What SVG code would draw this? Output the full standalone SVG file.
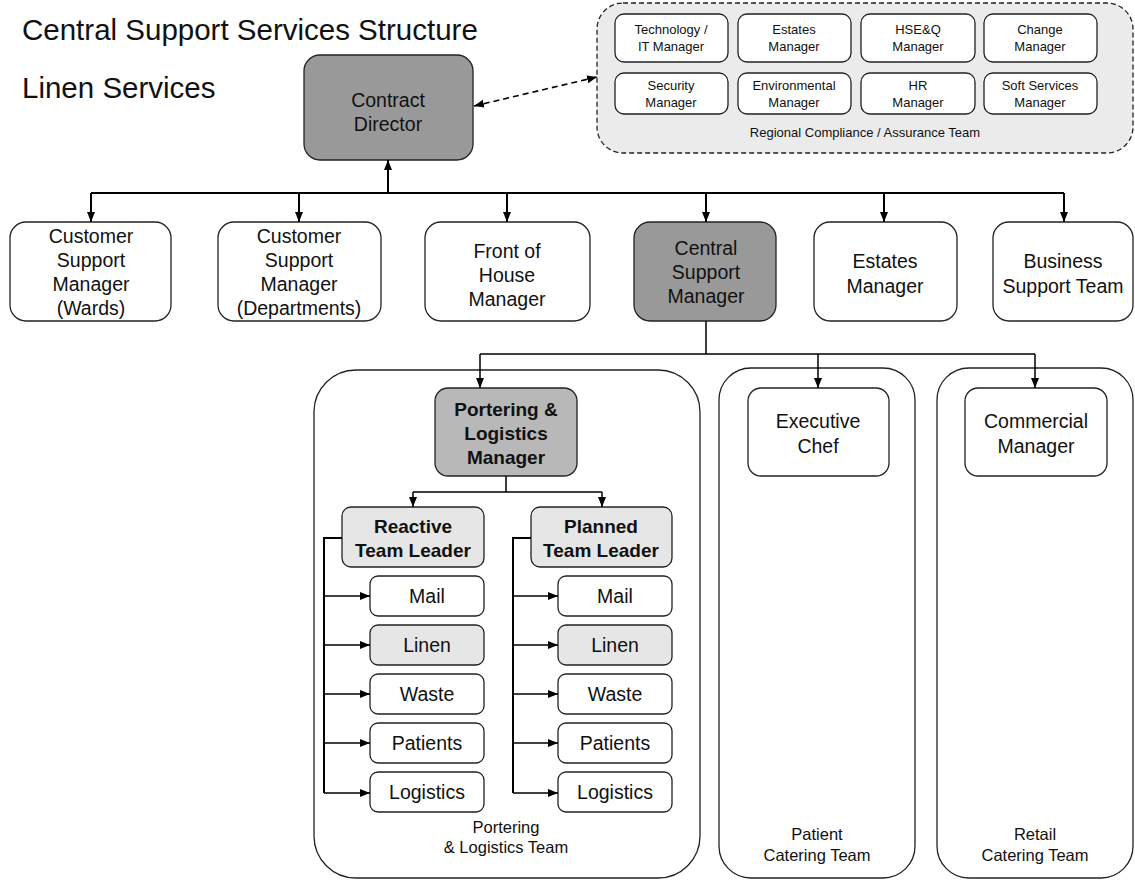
<svg xmlns="http://www.w3.org/2000/svg" width="1135" height="881" viewBox="0 0 1135 881">
<style>
text{font-family:"Liberation Sans",Arial,sans-serif;fill:#111;text-anchor:middle}
.box{fill:#fff;stroke:#222;stroke-width:1.3}
.dark{fill:#999;stroke:#222;stroke-width:1.3}
.mid{fill:#b8b8b8;stroke:#222;stroke-width:1.3}
.light{fill:#e6e6e6;stroke:#222;stroke-width:1.3}
.cont{fill:#fff;stroke:#222;stroke-width:1.3}
.t19{font-size:19.5px}
.b19{font-size:19px;font-weight:bold}
.t13{font-size:13px}
.t16{font-size:16.5px}
.con{fill:none;stroke:#000;stroke-width:2}
.con1{fill:none;stroke:#000;stroke-width:1.5}
</style>
<defs>
<marker id="a" viewBox="0 0 10 10" refX="10" refY="5" markerWidth="10" markerHeight="10" orient="auto-start-reverse" markerUnits="userSpaceOnUse"><path d="M0,1 L10,5 L0,9 z" fill="#000"/></marker>
</defs>
<rect width="1135" height="881" fill="#fff"/>
<text x="22" y="40" style="font-size:29.5px;text-anchor:start">Central Support Services Structure</text>
<text x="22" y="98" style="font-size:29.5px;text-anchor:start">Linen Services</text>

<g id="compliance">
<rect x="597" y="3" width="536" height="150" rx="26" fill="#ebebeb" stroke="#222" stroke-width="1.3" stroke-dasharray="5,3"/>
<rect class="box" x="615" y="14" width="113" height="48" rx="9"/>
<text class="t13" x="671" y="34">Technology /</text><text class="t13" x="671" y="51">IT Manager</text>
<rect class="box" x="738" y="14" width="113" height="48" rx="9"/>
<text class="t13" x="794" y="34">Estates</text><text class="t13" x="794" y="51">Manager</text>
<rect class="box" x="861" y="14" width="114" height="48" rx="9"/>
<text class="t13" x="918" y="34">HSE&amp;Q</text><text class="t13" x="918" y="51">Manager</text>
<rect class="box" x="984" y="14" width="113" height="48" rx="9"/>
<text class="t13" x="1040" y="34">Change</text><text class="t13" x="1040" y="51">Manager</text>
<rect class="box" x="615" y="73" width="113" height="41" rx="9"/>
<text class="t13" x="671" y="90">Security</text><text class="t13" x="671" y="107">Manager</text>
<rect class="box" x="738" y="73" width="113" height="41" rx="9"/>
<text class="t13" x="794" y="90">Environmental</text><text class="t13" x="794" y="107">Manager</text>
<rect class="box" x="861" y="73" width="114" height="41" rx="9"/>
<text class="t13" x="918" y="90">HR</text><text class="t13" x="918" y="107">Manager</text>
<rect class="box" x="984" y="73" width="113" height="41" rx="9"/>
<text class="t13" x="1040" y="90">Soft Services</text><text class="t13" x="1040" y="107">Manager</text>
<text class="t13" x="865" y="137">Regional Compliance / Assurance Team</text>
</g>

<g id="contract-director">
<rect class="dark" x="304" y="55" width="169" height="105" rx="16"/>
<text class="t19" x="388" y="107">Contract</text><text class="t19" x="388" y="131">Director</text>
</g>

<g id="csm-wards"><rect class="box" x="10" y="222" width="161" height="99" rx="16"/>
<text class="t19" x="91" y="243">Customer</text><text class="t19" x="91" y="267">Support</text><text class="t19" x="91" y="291">Manager</text><text class="t19" x="91" y="315">(Wards)</text></g>
<g id="csm-depts"><rect class="box" x="218" y="222" width="163" height="99" rx="16"/>
<text class="t19" x="299" y="243">Customer</text><text class="t19" x="299" y="267">Support</text><text class="t19" x="299" y="291">Manager</text><text class="t19" x="299" y="315">(Departments)</text></g>
<g id="foh"><rect class="box" x="425" y="222" width="165" height="99" rx="16"/>
<text class="t19" x="507" y="258">Front of</text><text class="t19" x="507" y="282">House</text><text class="t19" x="507" y="306">Manager</text></g>
<g id="csm-central"><rect class="dark" x="634" y="222" width="142" height="99" rx="16"/>
<text class="t19" x="706" y="255">Central</text><text class="t19" x="706" y="279">Support</text><text class="t19" x="706" y="303">Manager</text></g>
<g id="estates"><rect class="box" x="814" y="222" width="143" height="99" rx="16"/>
<text class="t19" x="885" y="268">Estates</text><text class="t19" x="885" y="293">Manager</text></g>
<g id="business"><rect class="box" x="993" y="222" width="140" height="99" rx="16"/>
<text class="t19" x="1063" y="268">Business</text><text class="t19" x="1063" y="293">Support Team</text></g>

<g id="portering-team">
<rect class="cont" x="314" y="370" width="386" height="508" rx="42"/>
<text class="t16" x="506" y="833">Portering</text><text class="t16" x="506" y="853">&amp; Logistics Team</text>
</g>
<g id="patient-catering">
<rect class="cont" x="719" y="368" width="196" height="510" rx="32"/>
<text class="t16" x="817" y="840">Patient</text><text class="t16" x="817" y="861">Catering Team</text>
</g>
<g id="retail-catering">
<rect class="cont" x="937" y="368" width="196" height="510" rx="32"/>
<text class="t16" x="1035" y="840">Retail</text><text class="t16" x="1035" y="861">Catering Team</text>
</g>

<g id="portering-manager"><rect class="mid" x="435" y="388" width="142" height="88" rx="13"/>
<text class="b19" x="506" y="416">Portering &amp;</text><text class="b19" x="506" y="440">Logistics</text><text class="b19" x="506" y="464">Manager</text></g>
<g id="exec-chef"><rect class="box" x="748" y="388" width="141" height="88" rx="13"/>
<text class="t19" x="818" y="428">Executive</text><text class="t19" x="818" y="453">Chef</text></g>
<g id="commercial"><rect class="box" x="965" y="388" width="142" height="88" rx="13"/>
<text class="t19" x="1036" y="428">Commercial</text><text class="t19" x="1036" y="453">Manager</text></g>

<g id="reactive"><rect class="light" x="342" y="507" width="142" height="60" rx="9"/>
<text class="b19" x="413" y="533">Reactive</text><text class="b19" x="413" y="557">Team Leader</text></g>
<g id="planned"><rect class="light" x="531" y="507" width="141" height="60" rx="9"/>
<text class="b19" x="601" y="533">Planned</text><text class="b19" x="601" y="557">Team Leader</text></g>

<g id="r-mail"><rect class="box" x="370" y="576" width="114" height="40" rx="8"/><text class="t19" x="427" y="603">Mail</text></g>
<g id="r-linen"><rect class="light" x="370" y="625" width="114" height="40" rx="8"/><text class="t19" x="427" y="652">Linen</text></g>
<g id="r-waste"><rect class="box" x="370" y="674" width="114" height="40" rx="8"/><text class="t19" x="427" y="701">Waste</text></g>
<g id="r-patients"><rect class="box" x="370" y="723" width="114" height="40" rx="8"/><text class="t19" x="427" y="750">Patients</text></g>
<g id="r-logistics"><rect class="box" x="370" y="772" width="114" height="40" rx="8"/><text class="t19" x="427" y="799">Logistics</text></g>
<g id="p-mail"><rect class="box" x="558" y="576" width="114" height="40" rx="8"/><text class="t19" x="615" y="603">Mail</text></g>
<g id="p-linen"><rect class="light" x="558" y="625" width="114" height="40" rx="8"/><text class="t19" x="615" y="652">Linen</text></g>
<g id="p-waste"><rect class="box" x="558" y="674" width="114" height="40" rx="8"/><text class="t19" x="615" y="701">Waste</text></g>
<g id="p-patients"><rect class="box" x="558" y="723" width="114" height="40" rx="8"/><text class="t19" x="615" y="750">Patients</text></g>
<g id="p-logistics"><rect class="box" x="558" y="772" width="114" height="40" rx="8"/><text class="t19" x="615" y="799">Logistics</text></g>

<g id="connectors">
<path class="con" d="M388,193 V160" marker-end="url(#a)"/>
<path class="con" d="M91,193 H1064"/>
<path class="con" d="M91,193 V222" marker-end="url(#a)"/>
<path class="con" d="M299,193 V222" marker-end="url(#a)"/>
<path class="con" d="M507,193 V222" marker-end="url(#a)"/>
<path class="con" d="M706,193 V222" marker-end="url(#a)"/>
<path class="con" d="M884,193 V222" marker-end="url(#a)"/>
<path class="con" d="M1064,193 V222" marker-end="url(#a)"/>
<path d="M474,106 L597,77" fill="none" stroke="#000" stroke-width="1.6" stroke-dasharray="6,4" marker-start="url(#a)" marker-end="url(#a)"/>
<path class="con1" d="M706,321 V354 M480,354 H1035"/>
<path class="con1" d="M480,354 V388" marker-end="url(#a)"/>
<path class="con1" d="M818,354 V388" marker-end="url(#a)"/>
<path class="con1" d="M1035,354 V388" marker-end="url(#a)"/>
<path class="con1" d="M506,476 V492 M413,492 H602"/>
<path class="con1" d="M413,492 V507" marker-end="url(#a)"/>
<path class="con1" d="M602,492 V507" marker-end="url(#a)"/>
<path class="con" d="M342,538 H324 V793"/>
<path class="con1" d="M324,596 H370" marker-end="url(#a)"/>
<path class="con1" d="M324,645 H370" marker-end="url(#a)"/>
<path class="con1" d="M324,694 H370" marker-end="url(#a)"/>
<path class="con1" d="M324,743 H370" marker-end="url(#a)"/>
<path class="con1" d="M324,793 H370" marker-end="url(#a)"/>
<path class="con" d="M531,538 H513 V793"/>
<path class="con1" d="M513,596 H558" marker-end="url(#a)"/>
<path class="con1" d="M513,645 H558" marker-end="url(#a)"/>
<path class="con1" d="M513,694 H558" marker-end="url(#a)"/>
<path class="con1" d="M513,743 H558" marker-end="url(#a)"/>
<path class="con1" d="M513,793 H558" marker-end="url(#a)"/>
</g>
</svg>
